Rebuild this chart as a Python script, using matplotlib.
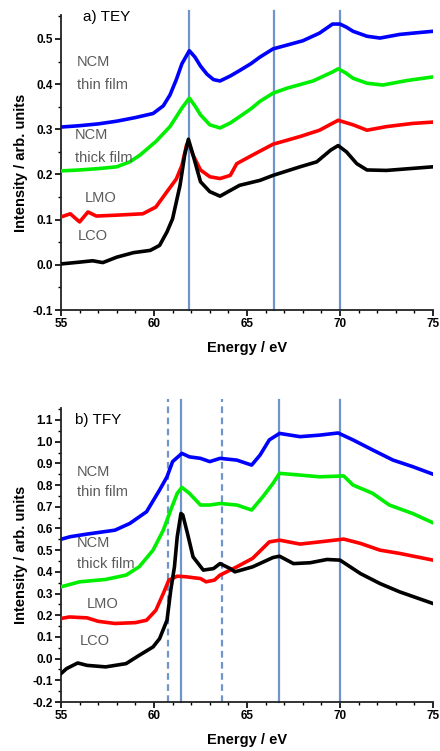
import matplotlib
matplotlib.use("Agg")
import matplotlib.pyplot as plt
from matplotlib.ticker import MultipleLocator, FormatStrFormatter

plt.rcParams['font.family'] = ['Liberation Sans', 'DejaVu Sans']

# ---------------- data: a) TEY ----------------
tey_blue_e = [55.0, 56.0, 57.0, 58.0, 59.0, 59.95, 60.5, 60.86, 61.2, 61.5, 61.9, 62.2, 62.5, 62.85,
              63.2, 63.55, 64.1, 64.6, 65.2, 65.7, 66.4, 67.2, 68.0, 68.9, 69.6, 70.0, 70.35, 70.7,
              71.45, 72.15, 73.2, 74.2, 75.0]
tey_blue_v = [0.305, 0.308, 0.312, 0.318, 0.326, 0.335, 0.352, 0.376, 0.41, 0.445, 0.474, 0.46, 0.44,
              0.422, 0.41, 0.407, 0.418, 0.43, 0.445, 0.46, 0.478, 0.487, 0.496, 0.513, 0.533, 0.533,
              0.526, 0.517, 0.506, 0.502, 0.51, 0.514, 0.517]

tey_green_e = [55.0, 56.0, 57.0, 58.0, 58.7, 59.25, 60.1, 60.86, 61.5, 61.9, 62.2, 62.5, 63.0, 63.55,
               64.1, 64.6, 65.2, 65.7, 66.4, 67.15, 68.55, 69.6, 69.9, 70.3, 70.7, 71.45, 72.3, 73.6, 75.0]
tey_green_v = [0.208, 0.21, 0.213, 0.217, 0.228, 0.243, 0.273, 0.306, 0.347, 0.369, 0.352, 0.332, 0.31,
               0.303, 0.314, 0.328, 0.345, 0.362, 0.38, 0.391, 0.407, 0.427, 0.434, 0.425, 0.413, 0.402,
               0.398, 0.408, 0.416]

tey_red_e = [55.0, 55.5, 56.0, 56.45, 56.9, 58.0, 59.4, 60.1, 60.7, 61.2, 61.5, 61.75, 61.85, 62.1, 62.5,
             63.0, 63.55, 64.1, 64.45, 65.3, 66.4, 67.85, 68.9, 69.9, 70.7, 71.45, 72.5, 73.9, 75.0]
tey_red_v = [0.106, 0.113, 0.095, 0.117, 0.108, 0.11, 0.113, 0.128, 0.162, 0.19, 0.22, 0.265, 0.273,
             0.243, 0.21, 0.195, 0.191, 0.198, 0.224, 0.243, 0.267, 0.284, 0.298, 0.32, 0.31, 0.298,
             0.306, 0.313, 0.316]

tey_black_e = [55.0, 56.0, 56.7, 57.25, 58.0, 58.9, 59.8, 60.3, 60.7, 61.0, 61.4, 61.65, 61.85, 62.1,
               62.5, 63.0, 63.55, 64.6, 65.7, 66.4, 67.85, 68.75, 69.5, 69.9, 70.35, 70.9, 71.45, 72.5, 75.0]
tey_black_v = [0.002, 0.006, 0.009, 0.005, 0.017, 0.027, 0.032, 0.043, 0.073, 0.102, 0.176, 0.243, 0.278,
               0.243, 0.184, 0.162, 0.152, 0.176, 0.187, 0.198, 0.217, 0.228, 0.254, 0.264, 0.25, 0.224,
               0.21, 0.209, 0.217]

tey_solid_lines = [61.9, 66.45, 70.0]

# ---------------- data: b) TFY ----------------
tfy_blue_e = [55.0, 55.5, 56.4, 57.9, 58.7, 59.6, 60.3, 60.7, 61.0, 61.5, 61.9, 62.5, 63.0, 63.55, 64.45,
              65.25, 65.7, 66.2, 66.75, 67.85, 68.9, 69.9, 70.7, 71.75, 72.85, 73.9, 75.0]
tfy_blue_v = [0.55, 0.562, 0.574, 0.592, 0.623, 0.677, 0.777, 0.838, 0.908, 0.946, 0.93, 0.923, 0.908,
              0.923, 0.915, 0.892, 0.938, 1.008, 1.038, 1.023, 1.03, 1.04, 1.008, 0.962, 0.915, 0.885, 0.85]

tfy_green_e = [55.0, 56.0, 57.4, 58.5, 59.2, 59.95, 60.5, 60.9, 61.25, 61.5, 61.9, 62.5, 63.0, 63.55,
               64.45, 65.25, 65.85, 66.4, 66.75, 67.85, 68.9, 70.2, 70.7, 71.75, 72.65, 73.9, 75.0]
tfy_green_v = [0.331, 0.354, 0.365, 0.385, 0.423, 0.5, 0.592, 0.685, 0.762, 0.789, 0.762, 0.708, 0.708,
               0.715, 0.708, 0.685, 0.746, 0.808, 0.854, 0.846, 0.838, 0.842, 0.8, 0.762, 0.708, 0.669, 0.626]

tfy_red_e = [55.0, 55.45, 56.4, 57.0, 57.9, 59.0, 59.6, 60.1, 60.5, 60.8, 61.25, 61.75, 62.5, 62.8, 63.25,
             63.55, 64.45, 65.3, 66.2, 66.75, 67.85, 68.9, 70.2, 71.1, 72.15, 73.2, 75.0]
tfy_red_v = [0.185, 0.192, 0.188, 0.172, 0.162, 0.166, 0.177, 0.223, 0.3, 0.362, 0.38, 0.377, 0.369,
             0.354, 0.362, 0.385, 0.423, 0.462, 0.538, 0.546, 0.528, 0.538, 0.551, 0.531, 0.5, 0.485, 0.454]

tfy_black_e = [55.0, 55.3, 55.9, 56.4, 57.4, 58.5, 59.2, 59.95, 60.3, 60.7, 60.9, 61.1, 61.25, 61.45,
               61.55, 61.8, 62.1, 62.65, 63.2, 63.55, 64.1, 64.35, 65.3, 66.4, 66.75, 67.5, 68.4, 69.3,
               70.0, 71.1, 72.15, 73.2, 75.0]
tfy_black_v = [-0.069, -0.046, -0.02, -0.031, -0.038, -0.023, 0.015, 0.054, 0.092, 0.177, 0.315, 0.423,
               0.562, 0.669, 0.662, 0.577, 0.469, 0.408, 0.415, 0.438, 0.415, 0.4, 0.423, 0.466, 0.472,
               0.438, 0.442, 0.457, 0.454, 0.392, 0.346, 0.308, 0.254]

tfy_solid_lines = [61.45, 66.72, 70.0]
tfy_dashed_lines = [60.78, 63.64]

VCOL = "#6f95c9"
LABCOL = "#5a5a5a"
LFS = 10.5

fig = plt.figure(figsize=(4.40, 7.51), dpi=100)
ax1 = fig.add_axes([0.1386, 0.5872, 0.8455, 0.3928])
ax2 = fig.add_axes([0.1386, 0.0652, 0.8455, 0.3915])


def style(ax, ylim):
    ax.set_xlim(55, 75)
    ax.set_ylim(*ylim)
    for s in ("top", "right"):
        ax.spines[s].set_visible(False)
    for s in ("left", "bottom"):
        ax.spines[s].set_linewidth(1.3)
        ax.spines[s].set_color("#222222")
    ax.xaxis.set_major_locator(MultipleLocator(5))
    ax.xaxis.set_minor_locator(MultipleLocator(1))
    ax.yaxis.set_major_locator(MultipleLocator(0.1))
    ax.yaxis.set_minor_locator(MultipleLocator(0.05))
    ax.yaxis.set_major_formatter(FormatStrFormatter('%.1f'))
    ax.tick_params(which='major', direction='out', length=4, width=1.2, labelsize=8.5, pad=2)
    ax.tick_params(which='minor', direction='out', length=2.5, width=1.0)
    for lab in ax.get_xticklabels() + ax.get_yticklabels():
        lab.set_fontweight('bold')
    ax.set_xlabel("Energy / eV", fontsize=10.5, fontweight='bold', labelpad=8)
    ax.set_ylabel("Intensity / arb. units", fontsize=10.5, fontweight='bold', labelpad=3)


def curves(ax, data):
    for e, v, c in data:
        ax.plot(e, v, color=c, lw=2.6, solid_joinstyle='round', zorder=3)


# ---- panel a ----
style(ax1, (-0.1, 0.553))
for x in tey_solid_lines:
    ax1.axvline(x, ymin=0, ymax=1.012, color=VCOL, lw=1.6, clip_on=False, zorder=2)
curves(ax1, [(tey_blue_e, tey_blue_v, "#0000ff"), (tey_green_e, tey_green_v, "#00ee00"),
             (tey_red_e, tey_red_v, "#ff0000"), (tey_black_e, tey_black_v, "black")])
ax1.text(56.2, 0.548, "a) TEY", fontsize=11, va='center', ha='left')
ax1.text(55.85, 0.449, "NCM", fontsize=LFS, color=LABCOL, va='center')
ax1.text(55.85, 0.398, "thin film", fontsize=LFS, color=LABCOL, va='center')
ax1.text(55.75, 0.288, "NCM", fontsize=LFS, color=LABCOL, va='center')
ax1.text(55.75, 0.237, "thick film", fontsize=LFS, color=LABCOL, va='center')
ax1.text(56.3, 0.148, "LMO", fontsize=LFS, color=LABCOL, va='center')
ax1.text(55.9, 0.064, "LCO", fontsize=LFS, color=LABCOL, va='center')

# ---- panel b ----
style(ax2, (-0.2, 1.155))
for x in tfy_solid_lines:
    ax2.axvline(x, ymin=0, ymax=1.027, color=VCOL, lw=1.6, clip_on=False, zorder=2)
for x in tfy_dashed_lines:
    ax2.axvline(x, ymin=0, ymax=1.03, color=VCOL, lw=1.6, ls=(0, (3, 2)), clip_on=False, zorder=2)
curves(ax2, [(tfy_blue_e, tfy_blue_v, "#0000ff"), (tfy_green_e, tfy_green_v, "#00ee00"),
             (tfy_red_e, tfy_red_v, "#ff0000"), (tfy_black_e, tfy_black_v, "black")])
ax2.text(55.75, 1.1, "b) TFY", fontsize=11, va='center', ha='left')
ax2.text(55.85, 0.86, "NCM", fontsize=LFS, color=LABCOL, va='center')
ax2.text(55.85, 0.768, "thin film", fontsize=LFS, color=LABCOL, va='center')
ax2.text(55.85, 0.533, "NCM", fontsize=LFS, color=LABCOL, va='center')
ax2.text(55.85, 0.436, "thick film", fontsize=LFS, color=LABCOL, va='center')
ax2.text(56.4, 0.252, "LMO", fontsize=LFS, color=LABCOL, va='center')
ax2.text(56.0, 0.081, "LCO", fontsize=LFS, color=LABCOL, va='center')

fig.savefig("out.png", dpi=100)
